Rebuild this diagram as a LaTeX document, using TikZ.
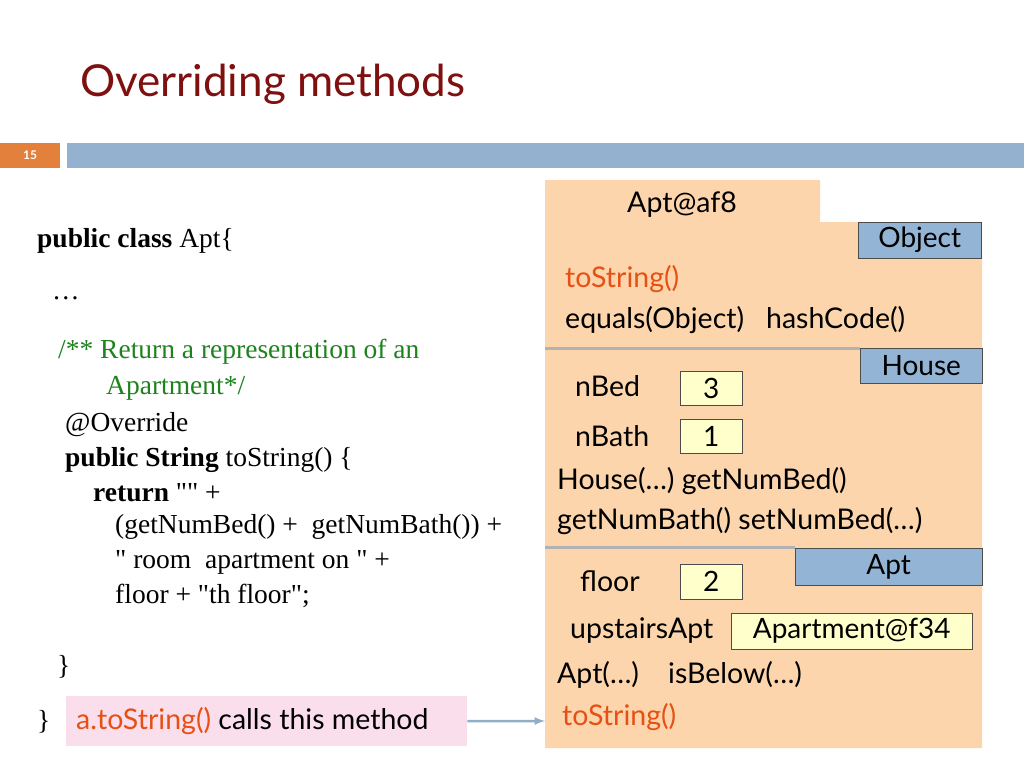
\documentclass[tikz,border=0pt]{standalone}
\usepackage{fontspec}
\setmainfont{Liberation Serif}[Ligatures=TeXOff]
\newfontfamily\gsans{Lato}
\newcommand{\dq}{\symbol{34}}
\begin{document}
\begin{tikzpicture}[x=1pt,y=-1pt,
  code/.style={anchor=west,inner sep=0,font=\fontsize{27.5}{30}\selectfont},
  sl/.style={anchor=west,inner sep=0,font=\gsans\fontsize{28.5}{30}\selectfont},
  lbl/.style={draw=black!70,fill=labelblue,inner sep=0,font=\gsans\fontsize{28}{30}\selectfont},
  val/.style={draw=black!70,fill=valyellow,inner sep=0,font=\gsans\fontsize{28}{30}\selectfont},
  sep/.style={draw=gray!60,line width=3pt}]
\definecolor{titlered}{RGB}{128,16,16}
\definecolor{barblue}{RGB}{148,178,208}
\definecolor{barorange}{RGB}{226,128,60}
\definecolor{peach}{RGB}{252,213,172}
\definecolor{labelblue}{RGB}{148,180,214}
\definecolor{valyellow}{RGB}{255,255,204}
\definecolor{mred}{RGB}{230,80,20}
\definecolor{cgreen}{RGB}{30,130,30}
\definecolor{pinkbg}{RGB}{250,222,236}
\useasboundingbox (0,0) rectangle (1024,768);
\fill[white] (0,0) rectangle (1024,768);
\node[anchor=west,inner sep=0,text=titlered,font=\gsans\fontsize{44}{48}\selectfont] (title) at (80,84) {Overriding methods};
\fill[barorange] (0,143) rectangle (60,168);
\fill[barblue] (67,143) rectangle (1024,168);
\node[text=white,font=\gsans\bfseries\fontsize{12}{14}\selectfont] (pg) at (30,155) {15};
% object
\fill[peach] (545,180) -- (820,180) -- (820,222) -- (982,222) -- (982,748) -- (545,748) -- cycle;
\draw[sep] (545,348) -- (860,348);
\draw[sep] (545,547) -- (795,547);
\node[lbl,minimum width=123,minimum height=36,anchor=north west] (obj) at (858,222) {Object};
\node[lbl,minimum width=122,minimum height=35,anchor=north west] (house) at (860,348) {House};
\node[lbl,minimum width=187,minimum height=37,anchor=north west] (apt) at (795,548) {Apt};
\node[sl,anchor=center] (name) at (682,205) {Apt@af8};
\node[sl,text=mred] (ts1) at (565,279) {toString()};
\node[sl] (eq) at (565,320) {equals(Object)\ \ \ hashCode()};
\node[sl] (nbed) at (575,386) {nBed};
\node[val,minimum width=62,minimum height=34,anchor=north west] (v3) at (680,371) {3};
\node[sl] (nbath) at (575,436) {nBath};
\node[val,minimum width=62,minimum height=34,anchor=north west] (v1) at (680,419) {1};
\node[sl] (hm1) at (557,481) {House(…) getNumBed()};
\node[sl] (hm2) at (557,521) {getNumBath() setNumBed(…)};
\node[sl] (floor) at (580,581) {floor};
\node[val,minimum width=62,minimum height=35,anchor=north west] (v2) at (680,564) {2};
\node[sl] (up) at (570,631) {upstairsApt};
\node[val,minimum width=241,minimum height=36,anchor=north west] (vf) at (731,613) {Apartment@f34};
\node[sl] (am) at (557,675) {Apt(…)\ \ \ \ isBelow(…)};
\node[sl,text=mred] (ts2) at (562,717) {toString()};
% code
\node[code] (c1) at (37,241) {\textbf{public class} Apt\{};
\node[code] (c2) at (52,298) {…};
\node[code,text=cgreen] (c3) at (58,352) {/** Return a representation of an};
\node[code,text=cgreen] (c4) at (106,388) {Apartment*/};
\node[code] (c5) at (65,425) {@Override};
\node[code] (c6) at (65,460) {\textbf{public String} toString() \{};
\node[code] (c7) at (93,493) {\textbf{return} \dq\dq{} +};
\node[code] (c8) at (115,527) {(getNumBed() +\ \ getNumBath()) +};
\node[code] (c9) at (115,562) {\dq{} room\ \ apartment on \dq{} +};
\node[code] (c10) at (115,596) {floor + \dq th floor\dq;};
\node[code] (c11) at (57,667) {\}};
\node[code] (c12) at (37,722) {\}};
\node[fill=pinkbg,minimum width=401,minimum height=50,anchor=north west,inner sep=0] (pink) at (66,696) {};
\node[sl] (call) at (76,721) {\textcolor{mred}{a.toString()} calls this method};
\draw[-latex,line width=2.5pt,draw=barblue!90!gray] (pink.east) -- (545,721);
\end{tikzpicture}
\end{document}
